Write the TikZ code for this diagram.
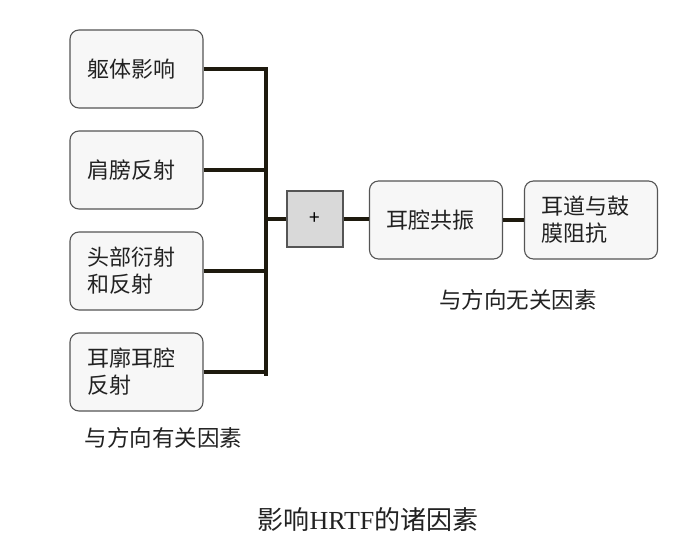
\documentclass[tikz,border=0pt]{standalone}
\usepackage{fontspec}
\newfontfamily\cjk{Noto Sans CJK SC}
\newfontfamily\latinserif{Liberation Serif}
\definecolor{boxfill}{HTML}{F7F7F7}
\definecolor{boxline}{HTML}{555555}
\definecolor{plusfill}{HTML}{D9D9D9}
\definecolor{wire}{HTML}{1E1A0E}
\definecolor{txt}{HTML}{222222}
\begin{document}
\begin{tikzpicture}[x=1pt,y=-1pt,
  factor/.style={draw=boxline, line width=1.1pt, fill=boxfill, rounded corners=9pt,
    minimum width=133pt, minimum height=78pt, text width=99pt, inner xsep=17pt,
    align=left, font=\cjk\fontsize{22}{27}\selectfont, text=txt},
  plusbox/.style={draw=boxline, line width=1.1pt, fill=plusfill,
    minimum width=56pt, minimum height=56pt, font=\cjk\fontsize{19}{22}\selectfont},
  wireline/.style={draw=wire, line width=4pt},
  lab/.style={font=\cjk\fontsize{22.5}{26}\selectfont, text=txt}
]
\useasboundingbox (0,0) rectangle (680,535);
\fill[white] (0,0) rectangle (680,535);

\node[factor] (b1) at (136.5,69) {躯体影响};
\node[factor] (b2) at (136.5,170) {肩膀反射};
\node[factor] (b3) at (136.5,271) {头部衍射\\和反射};
\node[factor] (b4) at (136.5,372) {耳廓耳腔\\反射};

\coordinate (bt) at (266,69);
\coordinate (bb) at (266,374);
\coordinate (bm) at (266,219);

\node[plusbox] (plus) at (315,219) {+};
\node[factor] (c1) at (436,220) {耳腔共振};
\node[factor] (c2) at (591,220) {耳道与鼓\\膜阻抗};

\draw[wireline] (b1.east) -- (b1.east -| bt);
\draw[wireline] (b2.east) -- (b2.east -| bt);
\draw[wireline] (b3.east) -- (b3.east -| bt);
\draw[wireline] (b4.east) -- (b4.east -| bt);
\draw[wireline, line cap=rect] (bt) -- (bb);
\draw[wireline] (bm) -- (plus.west);
\draw[wireline] (plus.east) -- (plus.east -| c1.west);
\draw[wireline] (c1.east) -- (c2.west);

\node[lab, anchor=west] (l1) at (81,438) {与方向有关因素};
\node[lab] (l2) at (518,300) {与方向无关因素};
\node[anchor=center, text=txt] (cap) at (368,520)
  {\cjk\fontsize{26}{30}\selectfont 影响\latinserif HRTF\cjk 的诸因素};
\end{tikzpicture}
\end{document}
